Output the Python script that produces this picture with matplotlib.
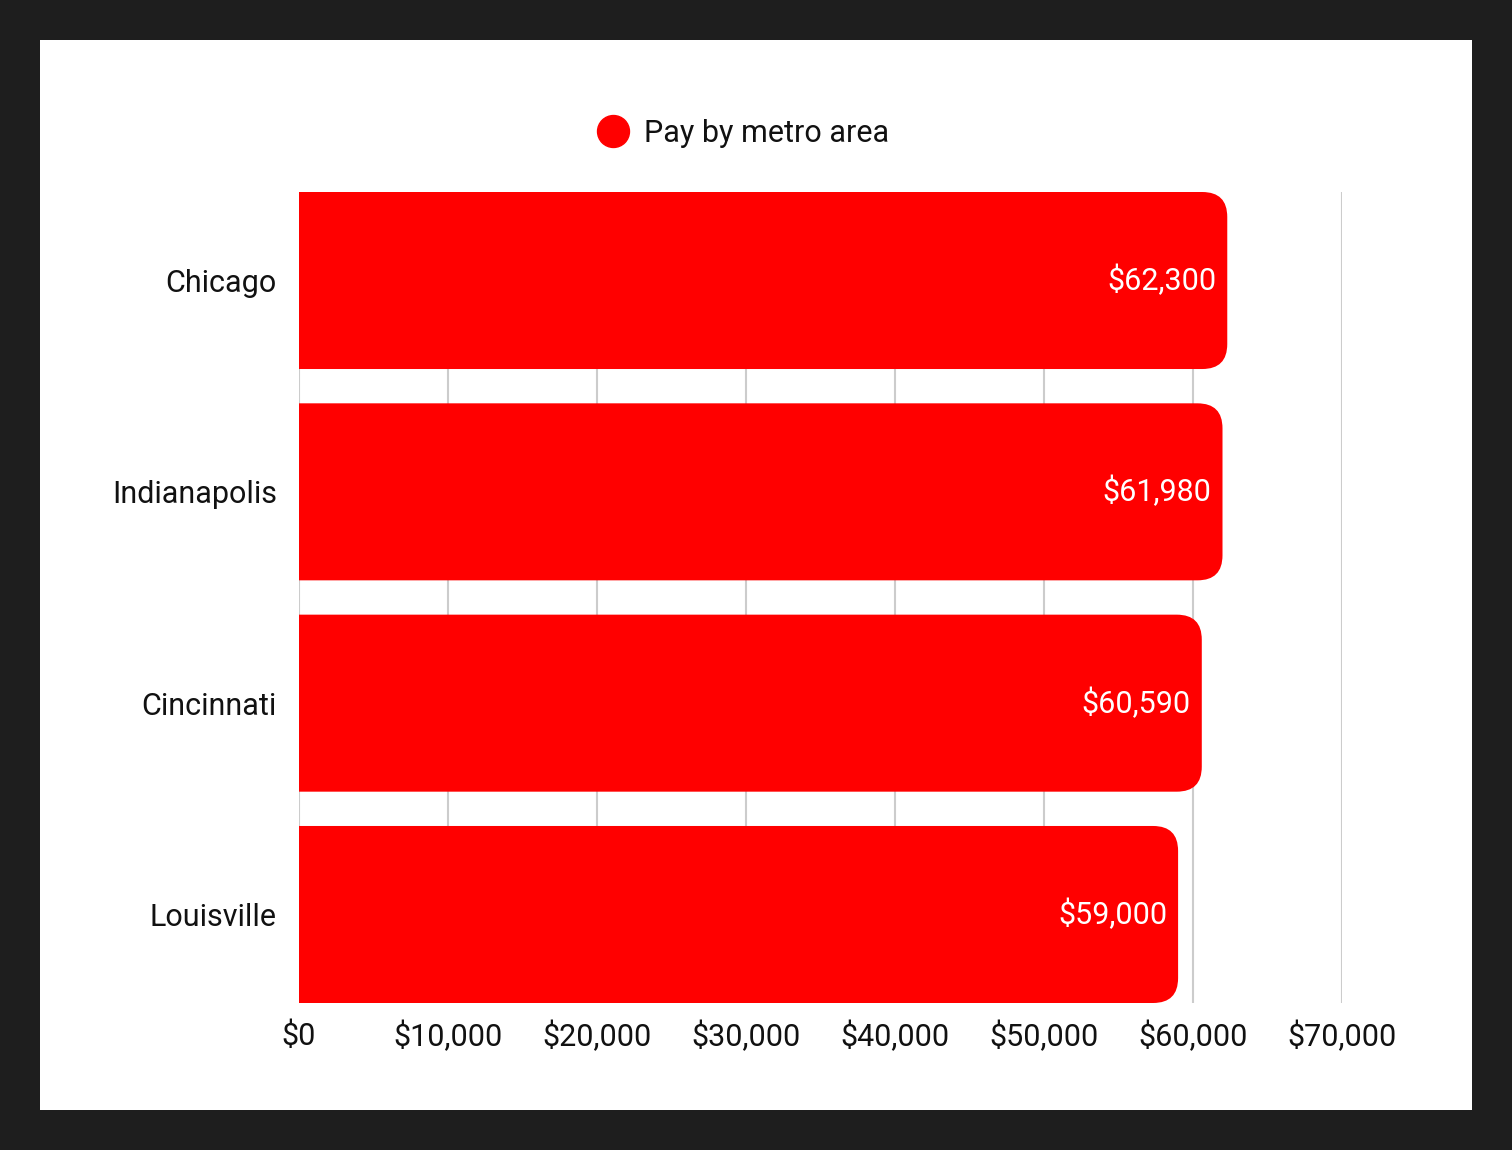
import matplotlib.pyplot as plt
from matplotlib.patches import FancyBboxPatch, Rectangle
from matplotlib.lines import Line2D
from matplotlib.ticker import FuncFormatter

# data
cities = ['Chicago', 'Indianapolis', 'Cincinnati', 'Louisville']
pay = [62300, 61980, 60590, 59000]
xticks = [0, 10000, 20000, 30000, 40000, 50000, 60000, 70000]

red = '#ff0000'
font = 'Roboto'
fs = 22
plt.rcParams['font.family'] = [font, 'DejaVu Sans']

W, H = 1512, 1150
fig = plt.figure(figsize=(W/100, H/100), dpi=100)
fig.patch.set_facecolor('#1e1e1e')
# white panel
fig.patches.append(Rectangle((40/W, 40/H), 1432/W, 1070/H, transform=fig.transFigure,
                             facecolor='white', edgecolor='none', zorder=-10))

ax = fig.add_axes([299/W, 1 - 1003/H, 1043/W, 811/H])
ax.set_facecolor('none')
bar_h = 177/211.3
ypos = list(range(len(cities)))
ax.set_xlim(0, 70000)
ax.set_ylim(len(cities) - 1 + bar_h/2, -bar_h/2)

# rounded right ends: draw bars, then swap in rounded boxes
rects = ax.barh(ypos, pay, height=bar_h, color=red, zorder=2)
radius_px = 25
rx = radius_px * 70000 / 1043
ry = radius_px * (len(cities) - 1 + bar_h) / 811
for r in rects:
    x0, y0 = r.get_x(), r.get_y()
    w, h = r.get_width(), r.get_height()
    r.set_visible(False)
    box = FancyBboxPatch((x0 - rx, y0), w + rx, h,
                         boxstyle=f'round,pad=0,rounding_size={rx}',
                         mutation_aspect=ry/rx, facecolor=red, edgecolor='none',
                         zorder=2, clip_on=True)
    ax.add_patch(box)
    ax.text(x0 + w - 11*70000/1043, y0 + h/2, f'${w:,.0f}', color='white',
            ha='right', va='center', fontsize=fs, zorder=3)

ax.set_yticks(ypos)
ax.set_yticklabels(cities, va='center_baseline')
ax.set_xticks(xticks)
ax.xaxis.set_major_formatter(FuncFormatter(lambda v, p: f'${v:,.0f}'))
ax.tick_params(axis='both', length=0, labelsize=fs, colors='#111111')
ax.tick_params(axis='y', pad=16)
ax.tick_params(axis='x', pad=13)
ax.grid(axis='x', color='#cccccc', linewidth=1.5, zorder=0)
ax.set_axisbelow(True)
for s in ax.spines.values():
    s.set_visible(False)

handle = Line2D([], [], marker='o', linestyle='none', markersize=23,
                markerfacecolor=red, markeredgecolor=red)
leg = fig.legend([handle], ['Pay by metro area'], loc='center',
                 bbox_to_anchor=(742/W, 1 - 133/H), frameon=False, fontsize=fs,
                 handletextpad=0.4, handlelength=1.2)
for t in leg.get_texts():
    t.set_color('#111111')

fig.savefig('out.png', dpi=100, facecolor=fig.get_facecolor())
